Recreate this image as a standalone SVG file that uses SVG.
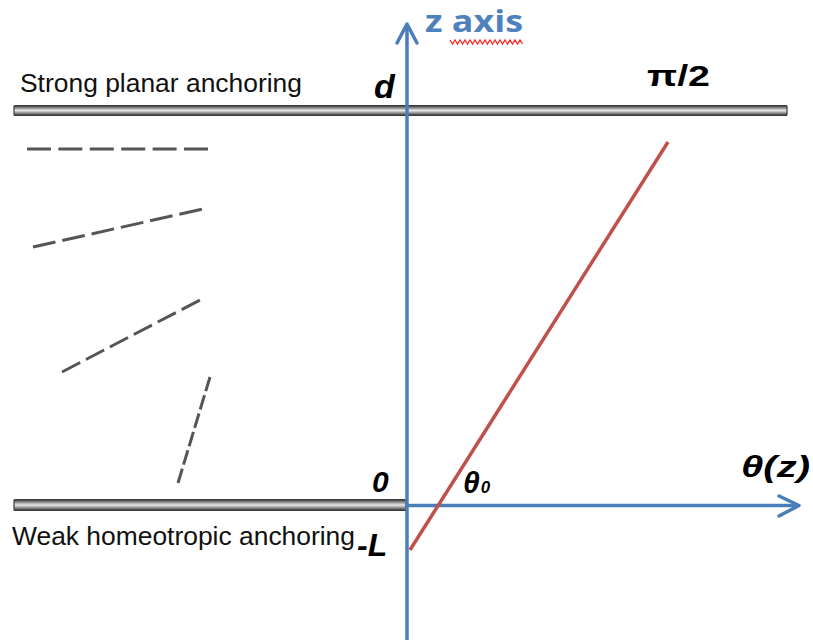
<svg xmlns="http://www.w3.org/2000/svg" width="813" height="644" viewBox="0 0 813 644">
  <defs>
    <linearGradient id="plate" x1="0" y1="0" x2="0" y2="1">
      <stop offset="0" stop-color="#2e2e2e"/>
      <stop offset="0.25" stop-color="#909090"/>
      <stop offset="0.5" stop-color="#e8e8e8"/>
      <stop offset="0.75" stop-color="#909090"/>
      <stop offset="1" stop-color="#2e2e2e"/>
    </linearGradient>
    <style>
      .plate { fill: url(#plate); stroke: #3a3a3a; stroke-width: 1.2; }
      .axis { stroke: #4a7ebb; stroke-width: 3.5; fill: none; }
      .head { stroke: #4a7ebb; stroke-width: 3.5; fill: none; stroke-linecap: round; stroke-linejoin: round; }
      .dir { stroke: #555; stroke-width: 3; fill: none; }
      .lbl { font-family: "Liberation Sans", Arial, sans-serif; font-size: 26px; fill: #111; }
      .math { font-family: "Liberation Sans", Arial, sans-serif; font-weight: bold; font-style: italic; fill: #000; }
      .upright { font-style: normal; }
    </style>
  </defs>

  <g id="top-plate">
    <rect class="plate" x="14" y="105.5" width="773" height="10" rx="1"/>
    <text class="lbl" x="20" y="92" textLength="282" lengthAdjust="spacingAndGlyphs">Strong planar anchoring</text>
  </g>

  <g id="bottom-plate">
    <rect class="plate" x="14" y="499.5" width="392" height="11" rx="1"/>
    <text class="lbl" x="12" y="545" textLength="343" lengthAdjust="spacingAndGlyphs">Weak homeotropic anchoring</text>
  </g>

  <g id="directors">
    <line class="dir" x1="27" y1="149" x2="208" y2="149" stroke-dasharray="24 7.4"/>
    <line class="dir" x1="33" y1="247" x2="203" y2="209" stroke-dasharray="23 7"/>
    <line class="dir" x1="62" y1="372" x2="200" y2="300" stroke-dasharray="20.5 6.5"/>
    <line class="dir" x1="178" y1="483" x2="210" y2="377" stroke-dasharray="15 4.2"/>
  </g>

  <g id="connectors">
    <line class="axis" x1="407" y1="640" x2="407" y2="25"/>
    <polyline class="head" points="397,43 407,24 417,43"/>
    <line class="axis" x1="407" y1="505.5" x2="798" y2="505.5"/>
    <polyline class="head" points="779,496 799,505.5 779,516"/>
    <line x1="410" y1="550" x2="668" y2="142" stroke="#c0504d" stroke-width="3.5"/>
  </g>

  <g id="z-axis-label">
    <text x="425" y="32" font-family="'Open Sans', 'Liberation Sans', sans-serif" font-weight="bold" font-size="30" fill="#4f81bd" textLength="98" lengthAdjust="spacingAndGlyphs">z axis</text>
    <polyline points="450,40 452.5,44 455,40 457.5,44 460,40 462.5,44 465,40 467.5,44 470,40 472.5,44 475,40 477.5,44 480,40 482.5,44 485,40 487.5,44 490,40 492.5,44 495,40 497.5,44 500,40 502.5,44 505,40 507.5,44 510,40 512.5,44 515,40 517.5,44 520,40 522.5,44" fill="none" stroke="#ff2020" stroke-width="1.2"/>
  </g>

  <g id="labels">
    <text class="math" x="374" y="98" font-size="34">d</text>
    <text class="math upright" x="647" y="86" font-size="30" textLength="63" lengthAdjust="spacingAndGlyphs">π/2</text>
    <text class="math" x="372" y="492" font-size="30">0</text>
    <text class="math" x="463" y="493" font-size="30">θ<tspan font-size="17" dx="1">0</tspan></text>
    <text class="math" x="741" y="477" font-size="30" textLength="69" lengthAdjust="spacingAndGlyphs">θ(z)</text>
    <text class="math" x="357" y="556" font-size="32">-L</text>
  </g>
</svg>
